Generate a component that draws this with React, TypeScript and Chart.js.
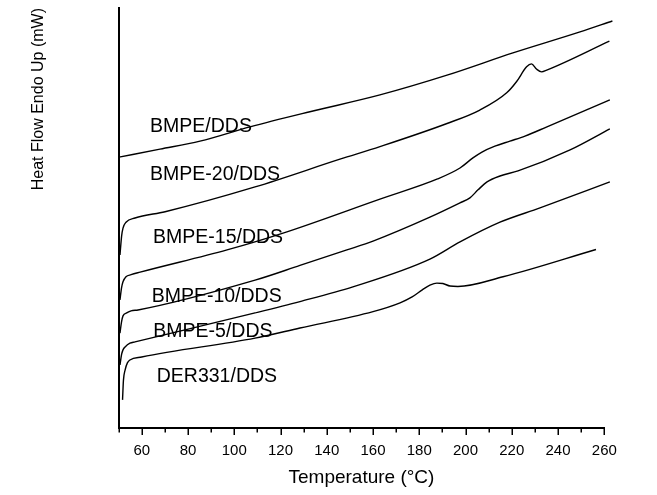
import React, { useEffect, useRef } from "react";
import { Chart, registerables } from "chart.js";

Chart.register(...registerables);

// Temperature (°C) / heat flow (arbitrary mW units, endo up)
const bmpeT = [50.2, 67.9, 85.2, 106.8, 132.7, 163.0, 192.0, 220.5, 249.5, 263.5];
const bmpeHF = [6.45, 6.64, 6.83, 7.17, 7.53, 7.93, 8.4, 8.93, 9.43, 9.69];

const bmpe20T = [50.6, 51.3, 51.9, 53.2, 57.1, 70.1, 109.0, 145.7, 163.0, 192.0, 206.2, 217.8, 222.1, 226.4, 228.5, 230.8, 232.9, 235.1, 262.2];
const bmpe20HF = [4.12, 4.57, 4.76, 4.9, 5.0, 5.15, 5.74, 6.4, 6.7, 7.25, 7.57, 7.98, 8.25, 8.6, 8.67, 8.54, 8.48, 8.52, 9.21];

const bmpe15T = [50.6, 51.25, 51.9, 53.2, 55.4, 59.3, 96.9, 121.1, 163.0, 187.9, 197.6, 203.2, 207.1, 212.7, 219.2, 225.7, 235.2, 262.4];
const bmpe15HF = [3.05, 3.33, 3.48, 3.6, 3.65, 3.71, 4.24, 4.64, 5.45, 5.93, 6.19, 6.43, 6.57, 6.71, 6.83, 6.95, 7.17, 7.81];

const bmpe10T = [50.6, 51.25, 51.9, 53.5, 55.4, 58.4, 109.0, 128.4, 148.7, 160.0, 184.6, 197.6, 201.9, 205.4, 209.3, 214.9, 222.7, 245.2, 262.4];
const bmpe10HF = [2.26, 2.52, 2.67, 2.74, 2.79, 2.81, 3.52, 3.87, 4.24, 4.45, 5.02, 5.36, 5.48, 5.67, 5.86, 6.0, 6.12, 6.62, 7.12];

const bmpe5T = [50.6, 51.25, 51.9, 52.8, 54.9, 57.1, 109.0, 128.4, 151.3, 184.6, 197.6, 214.9, 232.2, 262.4];
const bmpe5HF = [1.5, 1.74, 1.86, 1.93, 2.02, 2.05, 2.74, 3.01, 3.36, 4.02, 4.43, 4.9, 5.24, 5.86];

const der331T = [51.7, 52.1, 52.8, 53.8, 54.9, 60.0, 109.0, 128.4, 160.0, 171.7, 176.9, 181.3, 184.6, 187.6, 190.2, 193.3, 196.7, 216.2, 256.4];
const der331HF = [0.67, 1.14, 1.38, 1.55, 1.62, 1.69, 2.14, 2.38, 2.77, 2.98, 3.12, 3.29, 3.4, 3.45, 3.44, 3.38, 3.37, 3.6, 4.25];

const seriesNames = ["BMPE/DDS", "BMPE-20/DDS", "BMPE-15/DDS", "BMPE-10/DDS", "BMPE-5/DDS", "DER331/DDS"];
const seriesT = [bmpeT, bmpe20T, bmpe15T, bmpe10T, bmpe5T, der331T];
const seriesHF = [bmpeHF, bmpe20HF, bmpe15HF, bmpe10HF, bmpe5HF, der331HF];

// in-plot curve labels (temperature, heat flow of text baseline start)
const labelT = [63.6, 63.6, 64.9, 64.3, 65.0, 66.5];
const labelHF = [7.05, 5.9, 4.4, 3.01, 2.17, 1.1];

const xMin = 50;
const xMax = 260;
const xStep = 10;
const xLabelStep = 20;

const FONT = "'Liberation Sans', Arial, Helvetica, sans-serif";

const labelPlugin = {
  id: "curveLabels",
  afterDatasetsDraw(chart: any) {
    const { ctx, scales } = chart;
    const xs = scales.x;
    const ys = scales.y;
    ctx.save();
    ctx.fillStyle = "#000";
    ctx.font = `19.5px ${FONT}`;
    ctx.textAlign = "left";
    ctx.textBaseline = "alphabetic";
    seriesNames.forEach((name, i) => {
      ctx.fillText(name, xs.getPixelForValue(labelT[i]), ys.getPixelForValue(labelHF[i]));
    });
    ctx.restore();
  },
};

const tickPlugin = {
  id: "axisTicks",
  afterDraw(chart: any) {
    const { ctx, scales } = chart;
    const xs = scales.x;
    const y0 = chart.chartArea.bottom;
    ctx.save();
    ctx.strokeStyle = "#000";
    ctx.lineWidth = 1.5;
    xs.ticks.forEach((t: any) => {
      const px = Math.round(xs.getPixelForValue(t.value)) + 0.25;
      const major = t.value % xLabelStep === 0;
      ctx.beginPath();
      ctx.moveTo(px, y0);
      ctx.lineTo(px, y0 + (major ? 7 : 4.5));
      ctx.stroke();
    });
    ctx.restore();
  },
};

export default function App() {
  const canvasRef = useRef<HTMLCanvasElement | null>(null);

  useEffect(() => {
    const canvas = canvasRef.current;
    if (!canvas) return;
    const chart = new Chart(canvas, {
      type: "line",
      data: {
        datasets: seriesNames.map((name, i) => ({
          label: name,
          data: seriesT[i].map((t, j) => ({ x: t, y: seriesHF[i][j] })),
          borderColor: "#000",
          borderWidth: 1.4,
          pointRadius: 0,
          fill: false,
          cubicInterpolationMode: "monotone" as const,
          clip: false as any,
        })),
      },
      options: {
        responsive: false,
        animation: false,
        events: [],
        layout: { padding: { top: 8, right: 52.7, bottom: 0, left: 0 } },
        plugins: {
          legend: { display: false },
          tooltip: { enabled: false },
          title: { display: false },
        },
        scales: {
          x: {
            type: "linear",
            position: "bottom",
            min: xMin,
            max: xMax,
            grid: { display: false, drawTicks: false },
            border: { display: true, color: "#000", width: 2 },
            ticks: {
              stepSize: xStep,
              autoSkip: false,
              maxRotation: 0,
              padding: 14,
              color: "#000",
              font: { family: FONT, size: 15 },
              callback: (v: any) => (Number(v) % xLabelStep === 0 ? String(v) : ""),
            },
            title: {
              display: true,
              text: "Temperature (°C)",
              color: "#000",
              font: { family: FONT, size: 19 },
              padding: { top: 0, bottom: 6 },
            },
            afterFit: (scale: any) => {
              scale.height = 67;
            },
          },
          y: {
            type: "linear",
            position: "left",
            min: 0,
            max: 10,
            grid: { display: false, drawTicks: false },
            border: { display: true, color: "#000", width: 2 },
            ticks: { display: false },
            title: {
              display: true,
              text: "Heat Flow Endo Up (mW)",
              align: "end",
              color: "#000",
              font: { family: FONT, size: 16 },
              padding: { top: 29.4, bottom: 0 },
            },
            afterFit: (scale: any) => {
              scale.width = 118.6;
            },
          },
        },
      },
      plugins: [labelPlugin, tickPlugin],
    });
    return () => chart.destroy();
  }, []);

  return (
    <div style={{ position: "absolute", left: 0, top: 0, width: 657, height: 495, background: "#fff" }}>
      <canvas ref={canvasRef} width={657} height={495} style={{ display: "block" }} />
    </div>
  );
}
